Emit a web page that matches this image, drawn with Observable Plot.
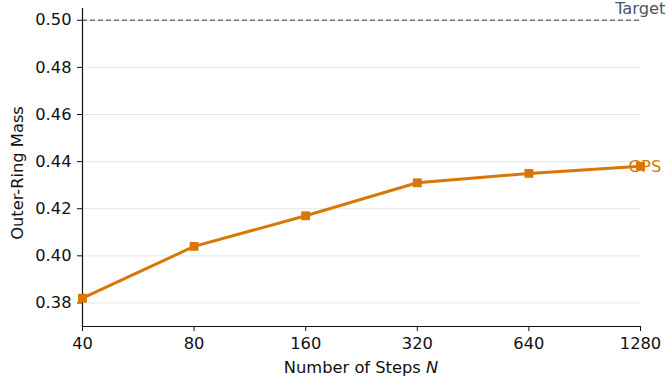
<!DOCTYPE html>
<html><head><meta charset="utf-8">
<script src="https://cdn.jsdelivr.net/npm/d3@7"></script>
<script src="https://cdn.jsdelivr.net/npm/@observablehq/plot@0.6"></script>
<style>body{margin:0;background:#fff;font-family:"DejaVu Sans",sans-serif}</style>
</head><body><div id="chart"></div>
<script>
const steps = [40, 80, 160, 320, 640, 1280];
const gps = [0.382, 0.404, 0.417, 0.431, 0.435, 0.438];
const target = 0.5;
const yTicks = [0.38, 0.40, 0.42, 0.44, 0.46, 0.48, 0.50];
const seriesName = "GPS";
const targetName = "Target";
const data = steps.map((n, i) => ({n, v: gps[i]}));
const orange = "#d97706";
const fs = 16.3;

const plot = Plot.plot({
  width: 667, height: 383,
  marginLeft: 82, marginRight: 27, marginTop: 8, marginBottom: 57,
  style: {fontFamily: "DejaVu Sans, sans-serif", fontSize: fs + "px", color: "#111"},
  x: {type: "log", base: 2, domain: [40, 1280]},
  y: {domain: [0.37, 0.505]},
  marks: [
    Plot.gridY(yTicks, {stroke: "#e5e7eb", strokeOpacity: 1, strokeWidth: 1}),
    Plot.ruleY([target], {stroke: "#6b7280", strokeDasharray: "5,3", strokeWidth: 1.4}),
    Plot.axisY(yTicks, {tickFormat: d => d.toFixed(2), tickSize: 5, tickPadding: 6, fontSize: fs, label: null}),
    Plot.axisX(steps, {tickFormat: d => String(d), tickSize: 5, tickPadding: 6, fontSize: fs, label: null}),
    Plot.frame({anchor: "left", stroke: "#111", strokeWidth: 1.2}),
    Plot.frame({anchor: "bottom", stroke: "#111", strokeWidth: 1.2}),
    Plot.line(data, {x: "n", y: "v", stroke: orange, strokeWidth: 3}),
    Plot.dot(data, {x: "n", y: "v", symbol: "square", r: 5, fill: orange}),
    Plot.text([targetName], {x: 1280, y: target, text: d => d, textAnchor: "end", dx: 25, dy: -11, fill: "#4b5563", fontSize: fs}),
    Plot.text([seriesName], {x: 1280, y: gps[gps.length - 1], text: d => d, textAnchor: "start", dx: -12, fill: orange, fontSize: fs})
  ]
});
document.getElementById("chart").append(plot);

const svg = d3.select(plot);
const x0 = 82, x1 = 640;
const xl = svg.append("text").attr("x", (x0 + x1) / 2).attr("y", 373)
  .attr("text-anchor", "middle").attr("font-size", fs).attr("fill", "#111");
xl.append("tspan").text("Number of Steps ");
xl.append("tspan").attr("font-style", "italic").text("N");
const yc = (20 + 326) / 2;
svg.append("text").attr("transform", `translate(23,${yc}) rotate(-90)`)
  .attr("text-anchor", "middle").attr("font-size", fs).attr("fill", "#111").text("Outer-Ring Mass");
</script></body></html>
